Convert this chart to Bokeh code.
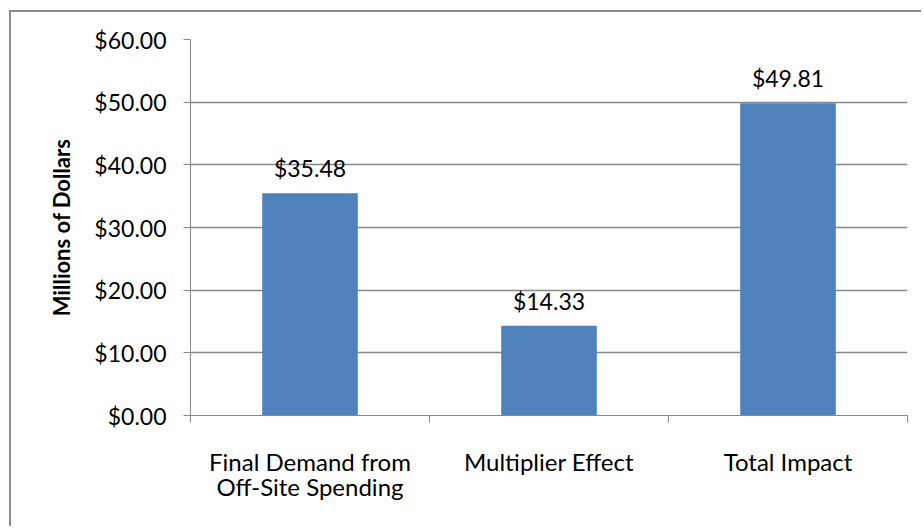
from bokeh.plotting import figure
from bokeh.models import ColumnDataSource, FixedTicker, NumeralTickFormatter, Range1d
from bokeh.core.properties import value
from bokeh.embed import file_html
from bokeh.resources import INLINE

categories = ["Final Demand from\nOff-Site Spending", "Multiplier Effect", "Total Impact"]
values = [35.48, 14.33, 49.81]
value_labels = ["$35.48", "$14.33", "$49.81"]
y_ticks = [0, 10, 20, 30, 40, 50, 60]

centers = [i + 0.5 for i in range(len(categories))]
boundaries = list(range(len(categories) + 1))

src = ColumnDataSource(dict(x=centers, top=values, label=value_labels))

FONT = "Lato"
GRAY = "#888888"

p = figure(width=912, height=516, output_backend="svg", toolbar_location=None,
           x_range=Range1d(0, len(categories)), y_range=Range1d(0, 60),
           min_border_left=179, min_border_right=16, min_border_top=27, min_border_bottom=113)
p.styles = {"border-top": "2px solid #8c8c8c", "border-left": "2px solid #8c8c8c",
            "margin-top": "10px", "margin-left": "9px"}
p.outline_line_color = None
p.background_fill_color = "white"
p.border_fill_color = "white"

p.vbar(x="x", top="top", width=0.4, bottom=0, source=src, fill_color="#4F81BD", line_color=None)
p.text(x="x", y="top", text="label", source=src, text_align="center", text_baseline="alphabetic",
       y_offset=-25, text_font=value(FONT), text_font_size="23px", text_color="black")

# x axis
p.xgrid.grid_line_color = None
p.xaxis.ticker = FixedTicker(ticks=centers, minor_ticks=boundaries)
p.xaxis.major_label_overrides = {c: lab for c, lab in zip(centers, categories)}
p.xaxis.major_tick_out = 0
p.xaxis.major_tick_in = 0
p.xaxis.minor_tick_out = 7
p.xaxis.minor_tick_in = 0
p.xaxis.minor_tick_line_color = GRAY
p.xaxis.axis_line_color = GRAY
p.xaxis.major_label_standoff = 24
p.xaxis.major_label_text_font = FONT
p.xaxis.major_label_text_font_size = "24px"
p.xaxis.major_label_text_line_height = 0.88
p.xaxis.major_label_text_color = "black"

# y axis
p.yaxis.ticker = FixedTicker(ticks=y_ticks)
p.yaxis.formatter = NumeralTickFormatter(format="$0.00")
p.yaxis.axis_line_color = GRAY
p.yaxis.major_tick_line_color = GRAY
p.yaxis.major_tick_out = 7
p.yaxis.major_tick_in = 0
p.yaxis.minor_tick_line_color = None
p.yaxis.major_label_standoff = 17
p.yaxis.major_label_text_font = FONT
p.yaxis.major_label_text_font_size = "23px"
p.yaxis.major_label_text_color = "black"
p.yaxis.axis_label = "Millions of Dollars"
p.yaxis.axis_label_text_font = FONT
p.yaxis.axis_label_text_font_style = "bold"
p.yaxis.axis_label_text_font_size = "22px"
p.yaxis.axis_label_text_color = "black"
p.yaxis.axis_label_standoff = 16
p.ygrid.grid_line_color = GRAY
p.ygrid.grid_line_width = 1.5

open("out.html", "w").write(file_html(p, INLINE))
